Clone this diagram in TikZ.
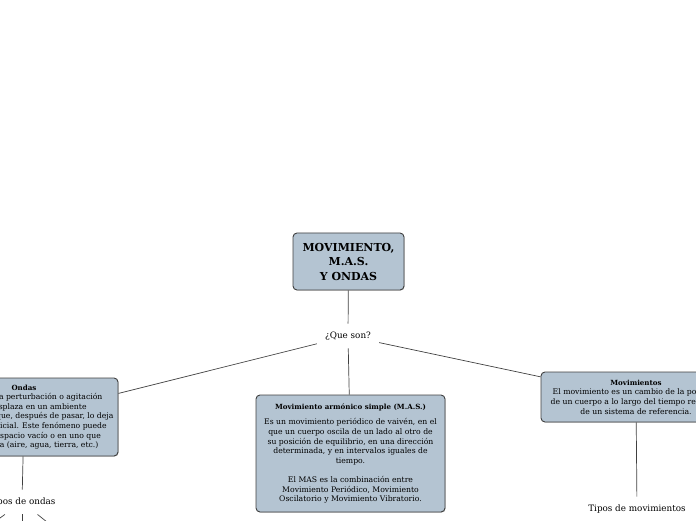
\documentclass[tikz,border=0pt]{standalone}
\usepackage{fontspec}
\setmainfont{DejaVu Serif}
\usetikzlibrary{positioning,shadows}
\definecolor{boxblue}{RGB}{180,196,210}
\definecolor{boxline}{RGB}{64,64,64}

\begin{document}
\begin{tikzpicture}[x=1pt,y=1pt,
  topic/.style={rectangle, draw=boxline, line width=0.9pt, fill=boxblue, align=center, rounded corners=4pt, inner sep=4pt, drop shadow={shadow xshift=0.6pt, shadow yshift=-0.6pt, opacity=0.5}, font=\fontsize{7.7}{9.6}\selectfont},
  sublabel/.style={inner sep=8pt, font=\fontsize{8.8}{10}\selectfont},
  link/.style={draw=boxline, line width=0.7pt}]

\clip (0,0) rectangle (696,520);

\node[topic, minimum width=111pt, minimum height=57pt, font=\bfseries\fontsize{11}{14.5}\selectfont] (main) at (348.5,258.5) {MOVIMIENTO,\\M.A.S.\\Y ONDAS};

\node[sublabel] (queson) at (348,184) {¿Que son?};

\node[topic, minimum width=188pt, minimum height=78pt] (ondas) at (24,103) {{\bfseries\fontsize{7.1}{9.6}\selectfont Ondas}\\Una onda es la perturbación o agitación\\que se desplaza en un ambiente\\medio material que, después de pasar, lo deja\\en su estado inicial. Este fenómeno puede\\darse en un espacio vacío o en uno que\\tenga materia (aire, agua, tierra, etc.)};

\node[topic, minimum width=189pt, minimum height=117pt] (mas) at (350.5,66.5) {{\bfseries\fontsize{7.1}{9.6}\selectfont Movimiento armónico simple (M.A.S.)}\\[6pt]Es un movimiento periódico de vaivén, en el\\que un cuerpo oscila de un lado al otro de\\su posición de equilibrio, en una dirección\\determinada, y en intervalos iguales de\\tiempo.\\[9.6pt]El MAS es la combinación entre\\Movimiento Periódico, Movimiento\\Oscilatorio y Movimiento Vibratorio.};

\node[topic, minimum width=190pt, minimum height=50pt] (movs) at (636,123) {{\bfseries\fontsize{7.1}{9.6}\selectfont Movimientos}\\El movimiento es un cambio de la posición\\de un cuerpo a lo largo del tiempo respecto\\de un sistema de referencia.};

\node[sublabel] (tiposondas) at (22,18) {Tipos de ondas};
\node[sublabel] (tiposmovs) at (637,11) {Tipos de movimientos};

\coordinate (ondaA) at (-66,-46);
\coordinate (ondaB) at (22,-46);
\coordinate (ondaC) at (102,-46);

% connectors
\draw[link] (main) -- (queson);
\draw[link] (queson) -- (ondas);
\draw[link] (queson) -- (mas);
\draw[link] (queson) -- (movs);
\draw[link] (ondas) -- (tiposondas);
\draw[link] (movs) -- (tiposmovs);
\draw[link] (tiposondas) -- (ondaA);
\draw[link] (tiposondas) -- (ondaB);
\draw[link] (tiposondas) -- (ondaC);

\end{tikzpicture}
\end{document}
